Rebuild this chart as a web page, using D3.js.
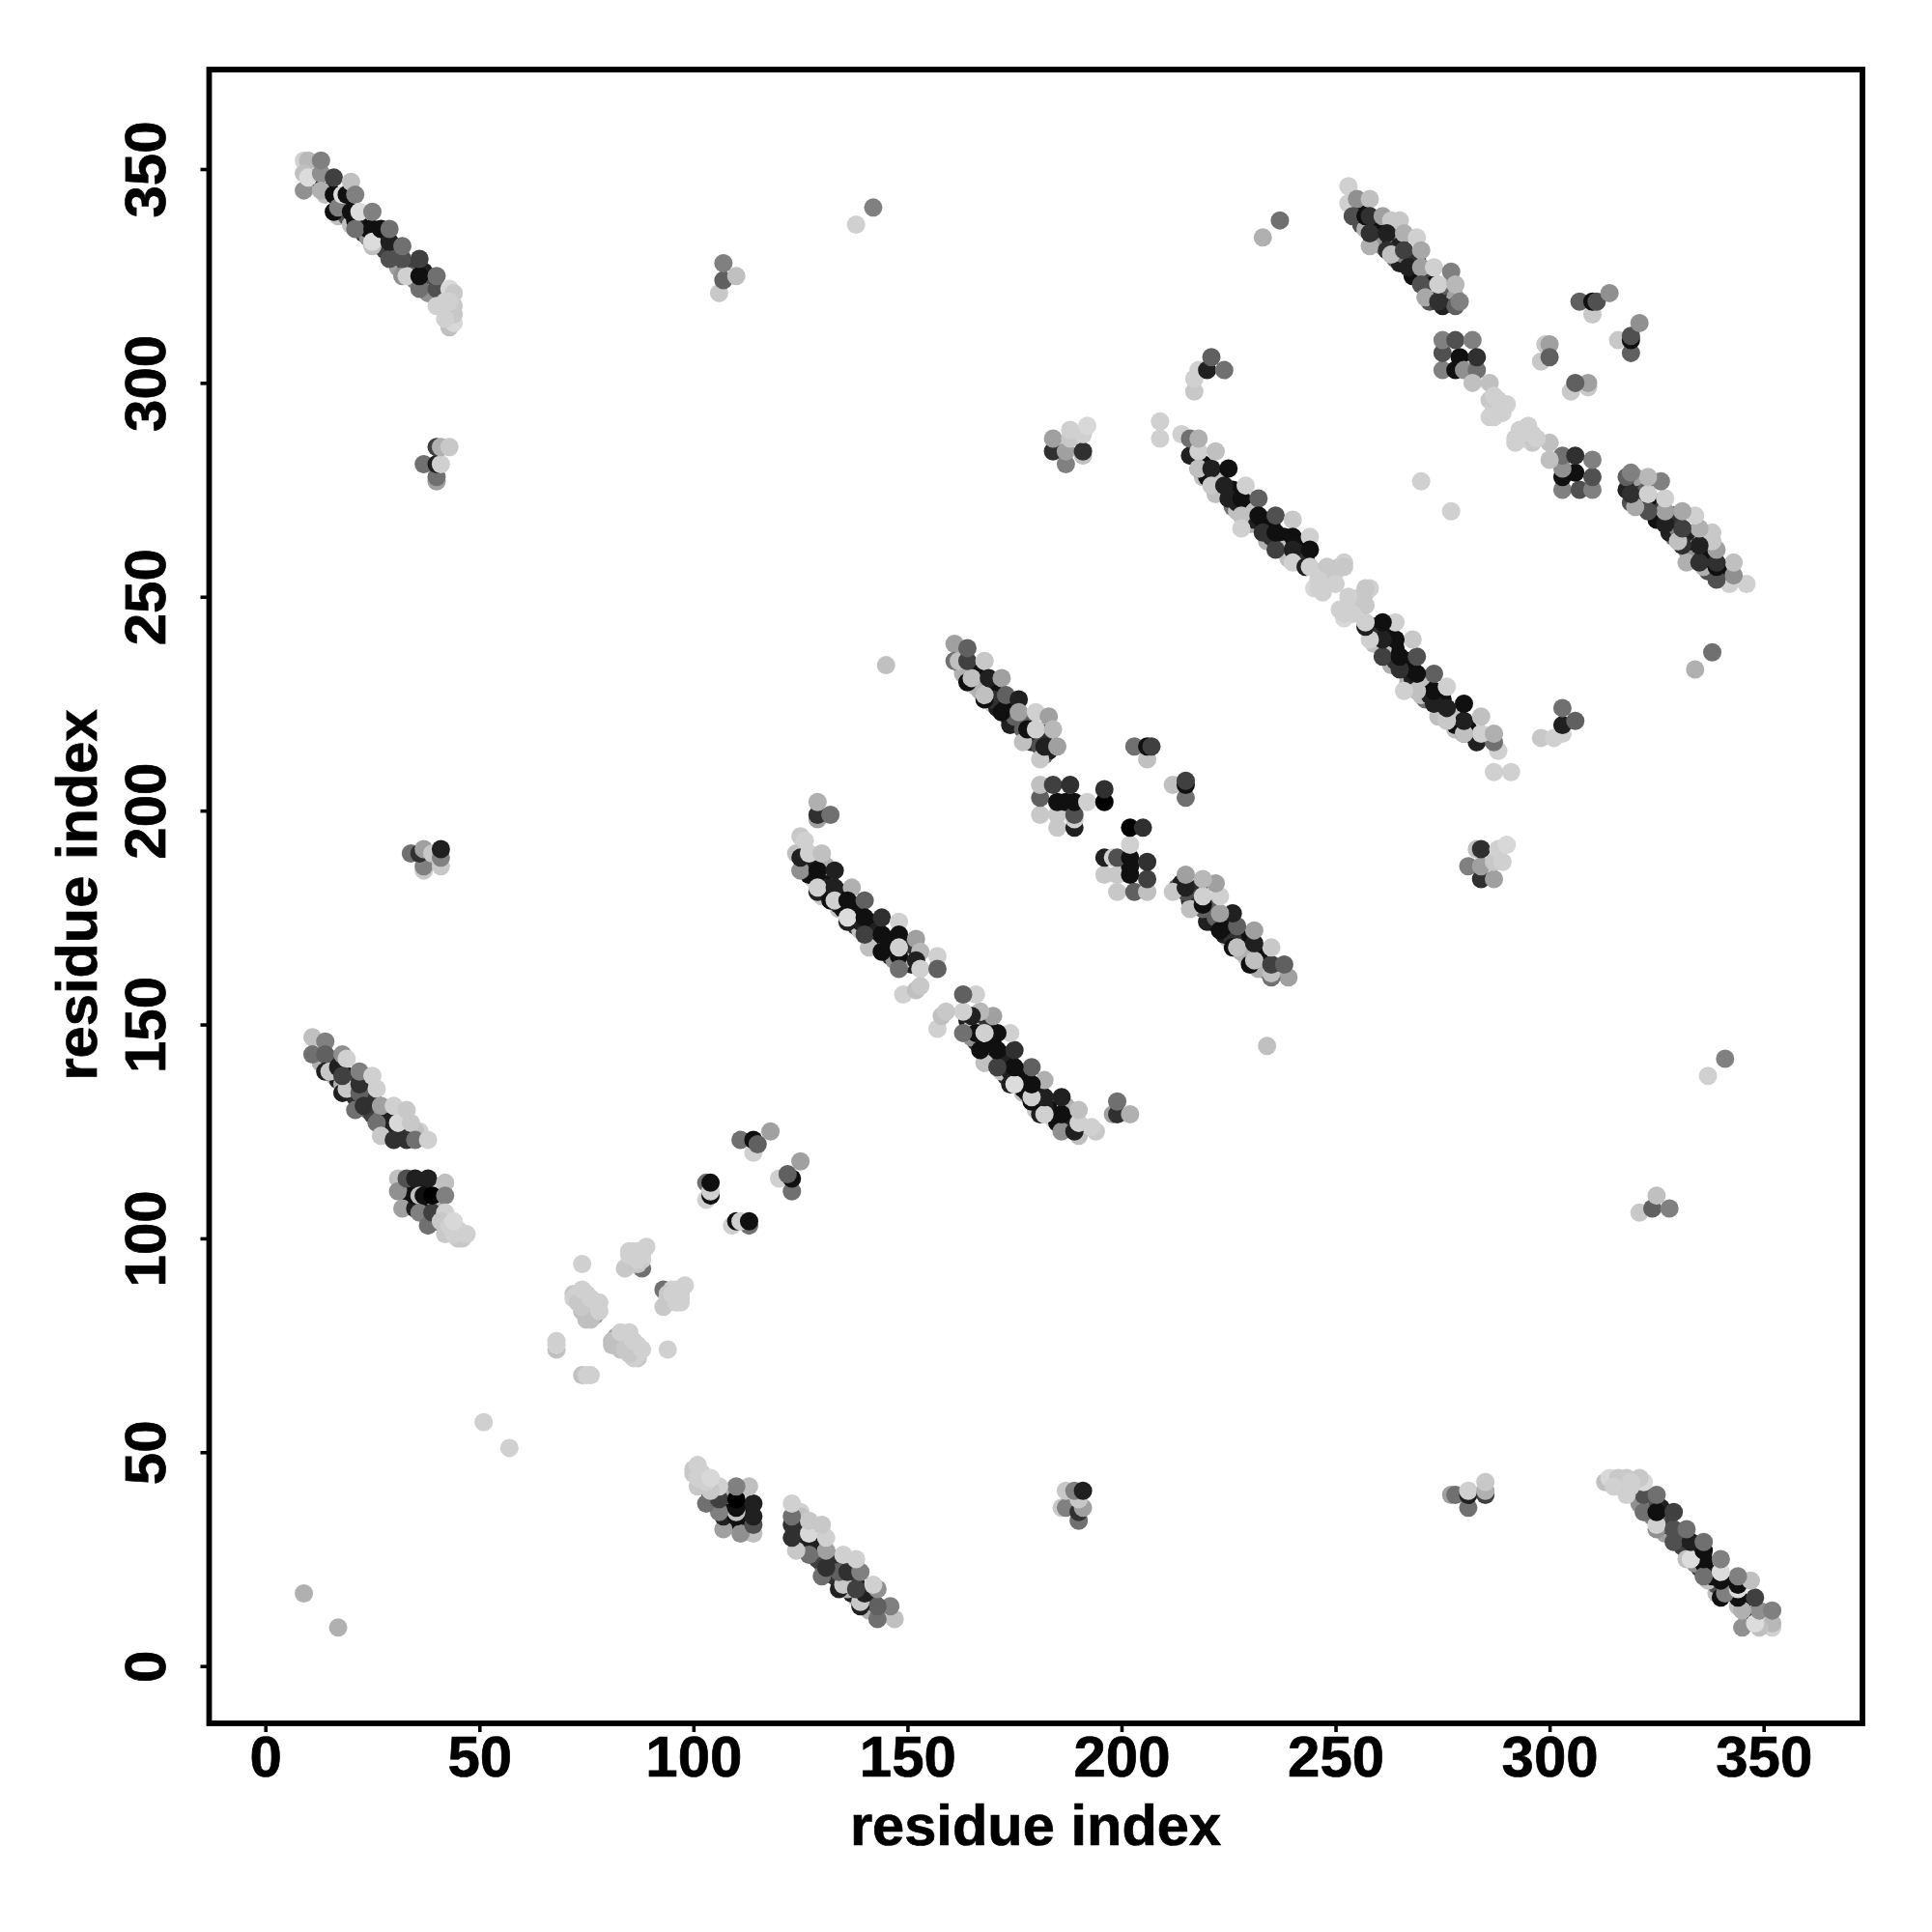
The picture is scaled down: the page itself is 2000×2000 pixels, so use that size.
<!DOCTYPE html>
<html><head><meta charset="utf-8">
<script src="https://cdnjs.cloudflare.com/ajax/libs/d3/7.8.5/d3.min.js"></script>
<style>html,body{margin:0;background:#fff}svg{display:block}</style>
</head><body><svg id="c" width="2000" height="2000"></svg>
<script>
// Contacts: [residue i, residue j, grey level]. The map is symmetric: each is drawn at (i,j) and (j,i).
const bandA=[[12,346,0xb0],[14,344,0xc0],[15,345,0x10],[17,343,0x30],[17,339,0xc0],[18,341,0x10],[19,339,0x50],[20,337,0xc0],[21,338,0x10],[22,337,0x20],[23,335,0x40],[24,334,0x90],[24,336,0x10],[26,334,0x20],[27,332,0x90],[28,331,0x40],[28,334,0x10],[30,331,0x20],[30,329,0x50],[31,327,0xa0],[33,327,0x40],[34,325,0x60],[35,324,0x80],[37,326,0x20],[38,323,0x50],[39,321,0x70],[38,321,0x90]];
const bandB=[[13,141,0xb0],[15,142,0x30],[16,138,0xc0],[17,137,0x20],[18,136,0xb0],[19,138,0x20],[20,136,0x40],[20,134,0xb0],[21,133,0x30],[23,134,0x30],[24,132,0x30],[24,130,0x60],[25,129,0x40],[25,133,0x30],[27,128,0x70],[28,127,0x30],[29,125,0xc0],[29,128,0x20],[31,124,0x30],[30,126,0x20],[32,125,0x10],[33,126,0x30],[36,125,0xd0],[35,125,0xc0]];
const bandC=[[34,109,0x10],[34,112,0x10],[36,112,0x10],[37,107,0x30],[38,108,0x10],[40,104,0x50],[39,104,0xa0],[40,112,0xd0],[40,108,0xb0]];
const bandD=[[126,187,0xc0],[127,188,0x20],[128,184,0xd0],[127,185,0x10],[130,184,0x10],[131,187,0xb0],[131,182,0x20],[130,180,0xc8],[131,181,0x10],[134,181,0x10],[134,177,0xc0],[134,178,0x20],[135,177,0x10],[137,178,0x10],[137,174,0xb0],[138,176,0x10],[138,173,0x30],[139,172,0xc0],[139,174,0x20],[141,174,0x10],[142,172,0x10],[142,170,0xc0],[143,169,0x30],[143,172,0x20],[145,170,0x10],[145,168,0xc0],[146,169,0x10],[146,166,0x30],[147,167,0x10],[149,169,0x20],[150,166,0x20],[150,168,0x30],[151,164,0x20],[149,165,0xc0],[147,165,0x90]];
const bandE=[[163,233,0x20],[163,232,0xb0],[166,229,0xc0],[166,232,0x10],[167,229,0x20],[167,228,0xb0],[170,228,0x10],[170,225,0xc0],[171,224,0x20],[170,226,0x30],[173,224,0x10],[174,221,0x10],[174,220,0x20],[175,222,0x60],[178,221,0x60],[178,217,0xc0],[179,218,0x20],[179,216,0x30],[182,213,0x60],[183,214,0x20],[182,218,0x30]];
const bandF=[[217,283,0x10],[219,281,0x10],[219,278,0xc0],[220,278,0x10],[222,278,0x20],[223,275,0x10],[222,274,0xc0],[223,277,0xc0],[226,271,0x70],[226,275,0x10],[227,270,0xc0],[227,274,0x10],[227,272,0x20],[230,271,0x10],[230,267,0xb0],[231,268,0x20],[231,270,0xc0],[233,268,0x10],[234,266,0x10],[234,263,0xb0],[235,264,0x30],[235,267,0x10],[237,262,0x20],[238,264,0x10],[238,261,0xc0],[239,259,0xc0],[241,262,0x10],[242,260,0x30],[241,259,0x60],[243,259,0x30]];
const bandG=[[256,337,0x50],[256,340,0x10],[257,336,0xb0],[259,337,0x10],[259,334,0x20],[260,336,0x10],[260,333,0x30],[261,332,0x90],[263,333,0x10],[263,335,0xb0],[264,331,0x10],[264,329,0x70],[265,328,0x20],[265,332,0x20],[266,330,0x80],[268,328,0x10],[268,325,0x10],[269,327,0x10],[269,329,0x30],[271,325,0x10],[271,323,0x20],[272,321,0x30],[272,325,0x40],[273,323,0x10],[274,321,0x20],[276,320,0x40],[276,322,0x60],[277,319,0x30],[278,320,0xa0],[275,318,0x20],[272,319,0x50],[278,318,0x60]];
const helixA=[[12,348,0x10],[9,352,0xd0],[10,352,0xb8],[9,349,0xc0],[9,345,0x90],[10,348,0xdc],[13,349,0x90],[13,345,0xb0],[13,352,0x80],
[16,344,0x10],[16,340,0x10],[17,341,0x80],[16,348,0x40],[18,344,0xdc],[19,344,0x10],[20,340,0x10],[20,347,0xc0],[21,344,0x80],
[21,336,0x70],[25,332,0xc0],[25,336,0x10],[22,340,0xdc],[25,333,0xdc],[25,340,0x80],[27,336,0x10],[29,329,0x50],[29,333,0x20],[29,336,0x70],
[32,325,0x90],[33,325,0xd0],[32,329,0x50],[32,332,0x70],[36,322,0x70],[36,325,0x10],[36,329,0x40],[40,322,0x50],[40,318,0xd0],[40,325,0x70],
[43,322,0xd8],[44,321,0xc8],[44,318,0xc8],[43,313,0xc0],[44,314,0xd8]];
const satA=[[40,277,0xa0],[37,281,0x70],[40,278,0x70],[40,281,0x20],[41,281,0xd0],[40,285,0x40],[41,285,0xb0],[43,285,0xc8]];
const satB=[[34,190,0x70],[37,186,0xc8],[37,187,0x80],[36,190,0x30],[37,191,0xa0],[39,190,0xc8],[41,187,0xc8],[41,189,0x80],[41,191,0x20]];
const helixB=[[11,147,0xc0],[11,143,0x70],[14,146,0x80],[14,143,0x60],[14,139,0x20],[15,139,0xc8],[17,140,0x20],[18,143,0x90],[19,142,0xd0],
[18,134,0x20],[19,135,0xc8],[18,138,0x40],[21,130,0x70],[22,134,0x60],[22,136,0x30],[22,139,0x80],[23,131,0x30],[25,138,0xd0],[26,135,0xd0],
[27,131,0xa0],[26,127,0x70],[27,124,0xc8],[30,123,0x30],[33,123,0x30],[30,131,0xd0],[31,127,0xd8],[33,130,0xc8],[34,127,0xc8],[35,123,0x70],[38,123,0xd0]];
const helixC=[[31,114,0xc0],[31,111,0x90],[32,107,0xa0],[33,114,0x50],[35,107,0x20],[35,110,0x10],[35,114,0x20],[36,110,0xc0],[36,106,0x80],[38,114,0x20],
[37,110,0x10],[38,103,0x70],[39,106,0x40],[39,110,0x00],[42,113,0xc0],[42,110,0x80],[42,106,0xd0],[43,104,0xd0],[42,101,0xc8],[44,102,0xd0],[46,100,0xc8],[46,101,0xd0]];
const loopA=[[68,74,0xc0],[68,75,0xd0],[68,76,0xd0],[74,94,0xd0],[72,87,0xc8],[72,86,0xd0],[74,86,0xc8],[75,81,0xc0],[76,83,0xc8],[77,82,0xa0],[77,84,0xc8],[73,87,0xd0],[75,87,0xd0],[78,85,0xd0],
[85,94,0xc0],[88,93,0x70],[86,94,0xc8],[85,97,0xd0],[86,97,0xd0],[87,97,0xd0],[88,96,0xd0],[88,95,0xd0],[51,57,0xd0],[9,17,0xb0]];
const pairA=[[103,113,0x70],[103,109,0xd0],[104,110,0x10],[104,111,0xd0],[104,113,0x10],[111,123,0x70],[114,120,0xd0],[114,123,0x10],[115,122,0x60],[118,125,0xa0]];
const farA=[[106,321,0xc8],[107,324,0x60],[107,328,0x80],[110,325,0xc0],[138,337,0xd0],[142,341,0x80],[145,234,0xc0],[233,334,0xb0],[237,338,0x70],[270,277,0xd0]];
const helixD=[[125,186,0x90],[124,190,0xc0],[125,189,0x20],[125,194,0xc8],[126,193,0xd0],[127,190,0xd0],[129,198,0xa0],[129,199,0x30],[132,199,0x70],[129,202,0xb0],
[129,186,0x10],[129,181,0x20],[129,182,0xd0],[130,190,0xc0],[133,186,0x20],[132,179,0x10],[133,182,0x20],[133,179,0xd0],[137,182,0xb0],
[136,174,0x20],[136,179,0x10],[136,175,0xdc],[140,179,0x60],[140,175,0x10],[141,168,0xc0],[140,171,0x40],[144,171,0x10],[144,175,0x30],[148,174,0xd0],[148,171,0x10],[152,170,0xa0],
[144,167,0x10],[148,166,0x10],[148,168,0xd0],[153,167,0xb8],[148,163,0x70],[152,165,0x20],[153,163,0xd0],[157,166,0xd0],[157,163,0x60],[149,157,0xd0],[152,158,0xc0],[153,159,0xc8]];
const helixE=[[161,239,0xa0],[161,235,0x70],[162,235,0xc0],[164,230,0x10],[165,231,0xc0],[164,235,0x40],[164,238,0x60],[168,235,0xc8],
[168,226,0x10],[168,227,0xc0],[169,231,0x20],[172,223,0x10],[172,231,0xa0],[173,227,0x60],[176,226,0x20],[177,219,0x60],[177,216,0xc0],[176,223,0xa0],[178,219,0x10],
[180,223,0xd0],[181,215,0x50],[180,219,0xd0],[181,212,0xc8],[182,215,0x20],[183,222,0xa0],[184,219,0xb8],[185,215,0xa0]];
const clusterA=[[181,199,0xc8],[181,203,0x60],[181,206,0xc0],[185,196,0xc8],[185,199,0xc8],[185,202,0x10],[184,206,0x40],[187,202,0x10],[189,196,0x20],[189,198,0xd0],[189,199,0x50],[189,202,0x10],[188,206,0x30],
[192,202,0xd0],[196,202,0x00],[196,205,0x30],[203,215,0x70],[206,212,0xc0],[206,215,0x10],[207,215,0x40]];
const satC=[[187,281,0x80],[184,284,0x30],[184,287,0xa0],[187,284,0xa0],[188,287,0xc8],[191,283,0xc0],[191,284,0x30],[188,289,0xd0],[191,288,0xd0],[192,290,0xd8],[217,298,0xc8],[217,301,0xd0],[218,303,0xd0],[220,303,0x20],[224,303,0x70],[221,306,0x60]];
const helixF=[[209,291,0xd0],[209,287,0xd0],[214,288,0xd0],[216,283,0x20],[216,287,0x70],[218,280,0x60],[218,284,0xd0],[218,287,0xb0],[218,280,0xc0],[221,280,0x20],[222,284,0xc0],
[221,276,0xc8],[224,276,0x20],[225,273,0x20],[225,280,0x10],[228,273,0x10],[229,276,0xd0],[228,269,0xc0],[228,266,0xd0],[232,273,0x60],[232,269,0x10],[233,265,0x30],[236,261,0x40],[236,265,0x10],[236,269,0x50],
[240,268,0xc8],[240,264,0x10],[240,261,0x20],[240,258,0xd0],[244,264,0xd0],[244,261,0x10],[243,257,0x20],[244,257,0xd0],[245,252,0xd8],[248,254,0xd0],[248,257,0xc8],[251,257,0xc0],[252,258,0xd0]];
const helixG=[[253,342,0xd0],[253,346,0xd0],[255,343,0x90],[254,339,0x50],[258,343,0xc0],[257,339,0x10],[258,339,0x30],[258,332,0xb0],[258,335,0x30],[261,339,0xa0],[263,338,0xc8],[265,338,0xc8],
[262,335,0x20],[262,331,0x30],[263,330,0xc0],[266,335,0xb0],[266,331,0x40],[269,334,0xd0],[270,331,0xa8],[267,327,0x20],[270,327,0xa0],[270,323,0x50],[271,320,0xa8],[273,327,0xd0],
[274,319,0x30],[277,326,0x80],[274,323,0xd0],[278,323,0xb8],[279,319,0x80]];
const helixH=[[275,303,0x80],[275,307,0x50],[275,310,0x80],[278,303,0x10],[279,306,0x10],[280,303,0x90],[278,310,0x50],[282,310,0x80],[283,303,0x70],[283,306,0x30],
[282,300,0xc0],[286,300,0xc0],[286,296,0xc8],[286,292,0xd0],[287,294,0xd0],[289,295,0xd0]];
const pairB=[[298,305,0xc8],[299,309,0xc8],[300,309,0xa0],[300,306,0x60],[307,319,0x60],[310,316,0xc8],[310,319,0x10],[311,319,0x50],[314,321,0x90]];
const lightEnds=[[41,104,0xc8],[45,100,0xc8],[43,103,0xd0],[44,101,0xd0],[45,102,0xd0],[44,104,0xd8],[47,101,0xd0],
[74,83,0xc0],[76,81,0xc0],[73,85,0xc8],[75,85,0xc8],[74,84,0xc8],[74,88,0xd0],[76,86,0xd0],[78,83,0xd0],
[84,93,0xc8],[86,95,0xc8],[87,94,0xc8],[85,96,0xd0],[87,95,0xd0],[88,97,0xd0],[89,98,0xd0],
[287,296,0xc8],[287,297,0xd0],[288,296,0xd0],[287,292,0xd0],[288,293,0xd0],[289,293,0xd0],[290,295,0xd0],
[249,255,0xc8],[250,256,0xc8],[252,257,0xc8],[246,252,0xd0],[246,254,0xd0],[247,251,0xd0],[250,253,0xd0],
[43,317,0xc8],[44,316,0xc8],[42,315,0xd0],[42,319,0xd0],[43,319,0xd0]];
const contacts=[...bandA,...bandB,...bandC,...bandD,...bandE,...bandF,...bandG,...helixA,...satA,...satB,...helixB,...helixC,...loopA,...pairA,...farA,...helixD,...helixE,...clusterA,...satC,...helixF,...helixG,...helixH,...pairB,...lightEnds];
const tickValues=[0,50,100,150,200,250,300,350];
const axisTitle="residue index";

const L=216.5,R=1928,T=72,B=1784;
const x=d3.scaleLinear().domain([0,350]).range([274.7,1825.7]);
const y=d3.scaleLinear().domain([0,350]).range([1724.7,175]);
const grey=d3.scaleLinear().domain([0,255]).range(["#000","#fff"]);
const svg=d3.select("#c");
const font='"Liberation Sans",Arial,sans-serif';

svg.append("g").selectAll("circle").data(contacts.flatMap(c=>[c,[c[1],c[0],c[2]]])).join("circle")
  .attr("cx",d=>x(d[0])).attr("cy",d=>y(d[1])).attr("r",9.5).attr("fill",d=>grey(d[2]));

svg.append("rect").attr("x",L).attr("y",T).attr("width",R-L).attr("height",B-T)
  .attr("fill","none").attr("stroke","#000").attr("stroke-width",5.8);

function style(sel,size){sel.attr("fill","#000").attr("stroke","#000").attr("stroke-width",0.7).attr("font-family",font).attr("font-weight","bold").attr("font-size",size);}
const ax=svg.append("g").attr("transform",`translate(0,${B})`).call(d3.axisBottom(x).tickValues(tickValues).tickSize(9).tickFormat(d3.format("d")));
ax.select(".domain").remove();
ax.selectAll("line").attr("stroke","#000").attr("stroke-width",3.6);
ax.selectAll("text").attr("y",55).attr("dy",0).call(style,60);

const ay=svg.append("g").attr("transform",`translate(${L},0)`).call(d3.axisLeft(y).tickValues(tickValues).tickSize(9).tickFormat(d3.format("d")));
ay.select(".domain").remove();
ay.selectAll("line").attr("stroke","#000").attr("stroke-width",3.6);
ay.selectAll("text").attr("x",0).attr("dy",0).attr("text-anchor","middle").attr("transform",`translate(${171-L},0) rotate(-90)`).call(style,60);

svg.append("text").attr("x",1072).attr("y",1910).attr("text-anchor","middle").call(style,59.6).text(axisTitle);
svg.append("text").attr("transform","translate(100,926.5) rotate(-90)").attr("text-anchor","middle").call(style,59.6).text(axisTitle);
</script></body></html>
